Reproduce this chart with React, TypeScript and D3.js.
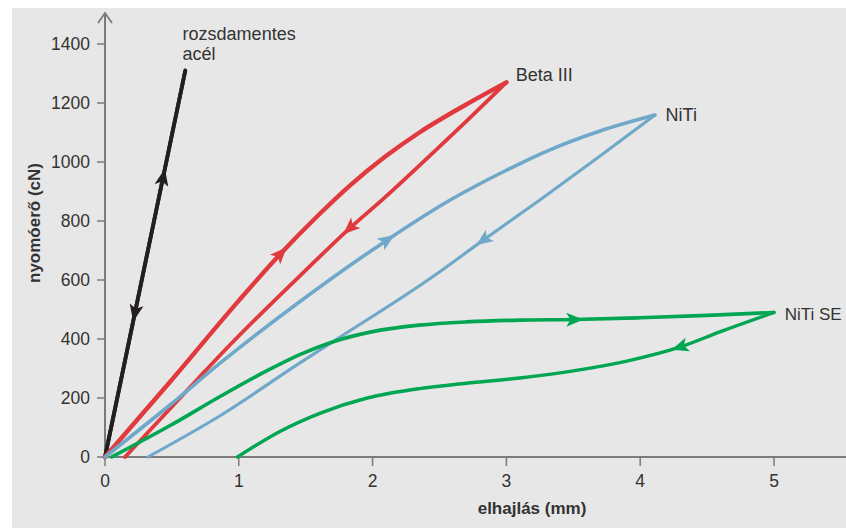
import React, { useRef, useEffect } from "react";
import * as d3 from "d3";

// elhajlás (mm) / nyomóerő (cN) pairs
const steelLoad: [number, number][] = [[0, 0], [0.6, 1310]];
const steelUnload: [number, number][] = [[0.6, 1310], [0, 0]];

const betaLoad: [number, number][] = [
  [0, 0], [0.5, 262], [1.0, 530], [1.31, 688], [1.6, 822], [1.83, 920],
  [2.1, 1020], [2.35, 1100], [2.7, 1195], [3.0, 1270],
];
const betaUnload: [number, number][] = [
  [3.0, 1270], [2.7, 1138], [2.5, 1052], [2.08, 875], [1.83, 776],
  [1.43, 602], [1.27, 532], [0.86, 345], [0.7, 268], [0.15, 0],
];

const nitiLoad: [number, number][] = [
  [0, 0], [0.49, 178], [0.86, 318], [1.46, 528], [2.11, 736], [2.58, 871],
  [3.0, 972], [3.33, 1042], [3.7, 1105], [4.11, 1159],
];
const nitiUnload: [number, number][] = [
  [4.11, 1159], [3.7, 1020], [3.25, 871], [2.83, 736], [2.43, 605], [1.7, 390],
  [1.46, 320], [0.86, 140], [0.32, 0],
];

const seLoad: [number, number][] = [
  [0.05, 0], [0.5, 110], [0.86, 205], [1.2, 290], [1.46, 348], [1.7, 390],
  [2.0, 425], [2.35, 447], [2.7, 458], [3.1, 464], [3.51, 466], [4.0, 472],
  [4.5, 480], [5.0, 490],
];
const seUnload: [number, number][] = [
  [5.0, 490], [4.6, 425], [4.3, 373], [3.9, 325], [3.5, 292], [3.1, 268],
  [2.7, 250], [2.35, 232], [1.96, 200], [1.61, 149], [1.3, 85], [0.99, 0],
];

const xTicks = [0, 1, 2, 3, 4, 5];
const yTicks = [0, 200, 400, 600, 800, 1000, 1200, 1400];

// dir: 1 = loading (arrow points to increasing x), -1 = unloading
const curves = [
  { data: steelLoad, color: "#231f20", width: 3.8, dir: 1, arrowAt: [0.42, 950] },
  { data: steelUnload, color: "#231f20", width: 3.8, dir: -1, arrowAt: [0.22, 490] },
  { data: betaLoad, color: "#e0393e", width: 4.4, dir: 1, arrowAt: [1.31, 690] },
  { data: betaUnload, color: "#e0393e", width: 3.8, dir: -1, arrowAt: [1.83, 776] },
  { data: nitiLoad, color: "#6fa8c8", width: 3.6, dir: 1, arrowAt: [2.11, 736] },
  { data: nitiUnload, color: "#6fa8c8", width: 3.1, dir: -1, arrowAt: [2.83, 736] },
  { data: seLoad, color: "#00a651", width: 3.6, dir: 1, arrowAt: [3.51, 466] },
  { data: seUnload, color: "#00a651", width: 3.4, dir: -1, arrowAt: [4.3, 373] },
];

const labels = [
  { text: "rozsdamentes", x: 0.58, y: 1415, size: 18 },
  { text: "acél", x: 0.58, y: 1347, size: 18 },
  { text: "Beta III", x: 3.07, y: 1273, size: 18 },
  { text: "NiTi", x: 4.19, y: 1138, size: 18 },
  { text: "NiTi SE", x: 5.08, y: 465, size: 17 },
];

export default function App() {
  const svgRef = useRef<SVGSVGElement>(null);
  const width = 846;
  const height = 528;

  useEffect(() => {
    const svg = d3.select(svgRef.current);
    svg.selectAll("*").remove();

    const x = d3.scaleLinear().domain([0, 5]).range([105, 774]);
    const y = d3.scaleLinear().domain([0, 1400]).range([457, 44]);
    const font = "Arial, 'Liberation Sans', Helvetica, sans-serif";

    // background panel
    svg.append("rect").attr("x", 12).attr("y", 8)
      .attr("width", width - 12).attr("height", height - 8)
      .attr("fill", "#e7e7e7");

    const axisColor = "#7b7b7b";
    // x axis
    svg.append("line").attr("x1", x(0)).attr("x2", width)
      .attr("y1", y(0)).attr("y2", y(0))
      .attr("stroke", axisColor).attr("stroke-width", 2);
    svg.append("g").selectAll("line").data(xTicks).enter().append("line")
      .attr("x1", (d) => x(d)).attr("x2", (d) => x(d))
      .attr("y1", y(0)).attr("y2", y(0) + 9)
      .attr("stroke", axisColor).attr("stroke-width", 1.5);
    svg.append("g").selectAll("text").data(xTicks).enter().append("text")
      .attr("x", (d) => x(d)).attr("y", y(0) + 30)
      .attr("text-anchor", "middle").attr("font-family", font)
      .attr("font-size", 17.5).attr("fill", "#333")
      .text((d) => d);

    // y axis
    svg.append("line").attr("x1", x(0)).attr("x2", x(0))
      .attr("y1", y(0)).attr("y2", 13)
      .attr("stroke", axisColor).attr("stroke-width", 2);
    svg.append("path")
      .attr("d", `M${x(0) - 7},${23} L${x(0)},${13} L${x(0) + 7},${23}`)
      .attr("fill", "none").attr("stroke", axisColor).attr("stroke-width", 1.8);
    svg.append("g").selectAll("line").data(yTicks).enter().append("line")
      .attr("x1", x(0) - 8).attr("x2", x(0))
      .attr("y1", (d) => y(d)).attr("y2", (d) => y(d))
      .attr("stroke", axisColor).attr("stroke-width", 1.5);
    svg.append("g").selectAll("text").data(yTicks).enter().append("text")
      .attr("x", 90).attr("y", (d) => y(d)).attr("dy", "0.36em")
      .attr("text-anchor", "end").attr("font-family", font)
      .attr("font-size", 17.5).attr("fill", "#333")
      .text((d) => d);

    // axis titles
    svg.append("text")
      .attr("transform", `translate(40,223) rotate(-90)`)
      .attr("text-anchor", "middle").attr("font-family", font)
      .attr("font-size", 17).attr("font-weight", "bold").attr("fill", "#333")
      .text("nyomóerő (cN)");
    svg.append("text")
      .attr("x", 532).attr("y", 514)
      .attr("text-anchor", "middle").attr("font-family", font)
      .attr("font-size", 17).attr("font-weight", "bold").attr("fill", "#333")
      .text("elhajlás (mm)");

    const line = d3.line<[number, number]>()
      .x((d) => x(d[0])).y((d) => y(d[1]))
      .curve(d3.curveMonotoneX);

    const g = svg.append("g");
    curves.forEach((c) => {
      const sorted = [...c.data].sort((a, b) => a[0] - b[0]);
      const path = g.append("path")
        .datum(sorted)
        .attr("fill", "none")
        .attr("stroke", c.color)
        .attr("stroke-width", c.width)
        .attr("stroke-linecap", "round")
        .attr("stroke-linejoin", "round")
        .attr("d", line);

      // arrowhead at nearest point on the curve
      const node = path.node() as SVGPathElement;
      const total = node.getTotalLength();
      const tx = x(c.arrowAt[0]);
      const ty = y(c.arrowAt[1]);
      let best = 0;
      let bestD = Infinity;
      for (let i = 0; i <= 600; i++) {
        const p = node.getPointAtLength((total * i) / 600);
        const dd = (p.x - tx) ** 2 + (p.y - ty) ** 2;
        if (dd < bestD) { bestD = dd; best = (total * i) / 600; }
      }
      const p0 = node.getPointAtLength(Math.max(0, best - 4));
      const p1 = node.getPointAtLength(Math.min(total, best + 4));
      let ang = (Math.atan2(p1.y - p0.y, p1.x - p0.x) * 180) / Math.PI;
      if (c.dir < 0) ang += 180;
      const c0 = node.getPointAtLength(best);
      g.append("path")
        .attr("d", "M9,0 L-8,-7 L-4,0 L-8,7 Z")
        .attr("fill", c.color)
        .attr("transform", `translate(${c0.x},${c0.y}) rotate(${ang})`);
    });

    // curve labels
    svg.append("g").selectAll("text").data(labels).enter().append("text")
      .attr("x", (d) => x(d.x)).attr("y", (d) => y(d.y))
      .attr("font-family", font).attr("font-size", (d) => d.size).attr("fill", "#333")
      .text((d) => d.text);
  }, []);

  return (
    <svg
      ref={svgRef}
      width={width}
      height={height}
      style={{ position: "absolute", left: 0, top: 0, background: "#fff" }}
    />
  );
}
